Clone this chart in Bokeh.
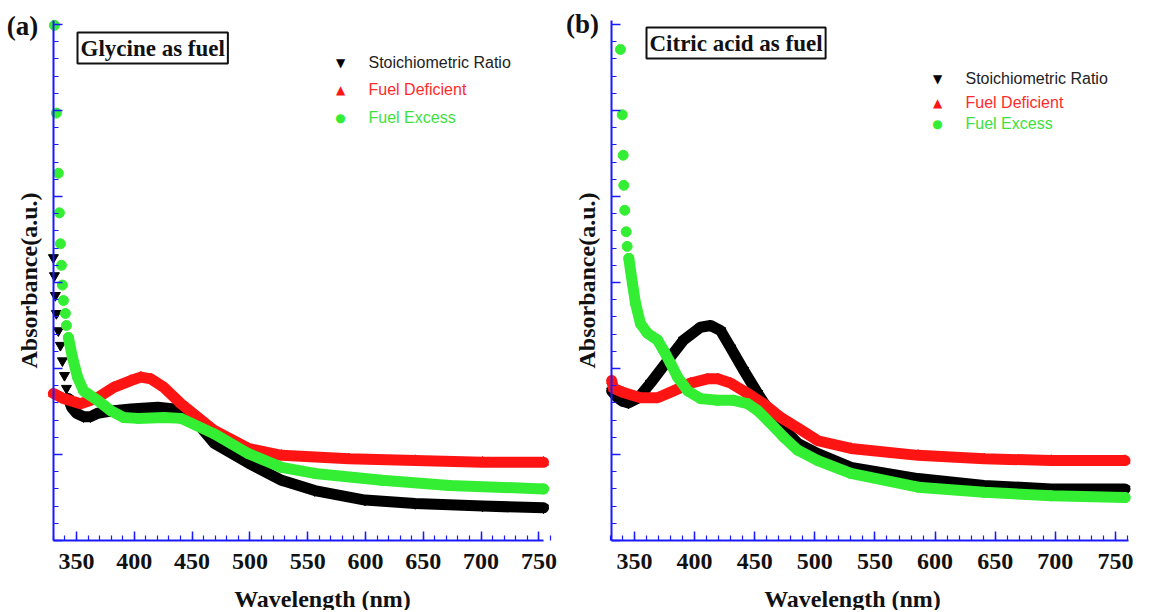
from bokeh.plotting import figure
from bokeh.layouts import row
from bokeh.models import Label, Range1d, FixedTicker, SingleIntervalTicker, CustomJSTickFormatter
from bokeh.embed import file_html
from bokeh.resources import INLINE

# ---------------- data ----------------
WAVE_TICKS = [350, 400, 450, 500, 550, 600, 650, 700, 750]
WAVE_MINOR = list(range(330, 761, 10))

# (a) Glycine as fuel
gly_stoich_wl = [330.0, 330.9, 331.7, 332.6, 334.3, 336.1, 337.8, 339.6, 341.3, 343.0, 345.7, 350.0, 356.1,
                 362.2, 368.3, 382.2, 397.0, 420.4, 434.3, 449.1, 469.1, 498.7, 527.4, 556.1, 599.6, 643.0,
                 701.3, 754.0]
gly_stoich_abs = [3.29, 3.08, 2.85, 2.64, 2.44, 2.27, 2.09, 1.92, 1.77, 1.65, 1.55, 1.48, 1.44,
                  1.44, 1.48, 1.51, 1.53, 1.55, 1.53, 1.45, 1.13, 0.90, 0.70, 0.58, 0.47, 0.43,
                  0.40, 0.38]
gly_def_wl = [330.0, 338.7, 353.5, 368.3, 382.2, 397.0, 405.7, 414.3, 425.7, 440.4, 455.2, 469.1, 498.7,
              527.4, 585.7, 643.0, 701.3, 754.0]
gly_def_abs = [1.71, 1.65, 1.59, 1.66, 1.78, 1.86, 1.90, 1.88, 1.78, 1.59, 1.43, 1.28, 1.07,
               0.99, 0.95, 0.93, 0.91, 0.91]
gly_exc_wl = [330.9, 332.6, 334.3, 335.2, 336.1, 337.0, 337.8, 338.7, 340.4, 341.3, 343.0, 346.5, 350.9,
              356.1, 368.3, 379.6, 390.9, 403.0, 425.7, 440.4, 469.1, 498.7, 527.4, 556.1, 614.3, 672.6,
              754.0]
gly_exc_abs = [5.99, 4.97, 4.27, 3.81, 3.45, 3.20, 2.97, 2.79, 2.64, 2.50, 2.36, 2.13, 1.90,
               1.74, 1.63, 1.51, 1.43, 1.42, 1.43, 1.42, 1.24, 1.01, 0.85, 0.78, 0.70, 0.64,
               0.60]

# (b) Citric acid as fuel
cit_stoich_wl = [331.0, 335.8, 340.0, 345.0, 353.3, 363.3, 377.5, 390.8, 405.0, 413.3, 421.7, 430.0, 440.8,
                 452.5, 463.3, 474.2, 485.8, 502.5, 530.0, 585.8, 640.8, 696.7, 758.0]
cit_stoich_abs = [1.74, 1.66, 1.62, 1.60, 1.66, 1.83, 2.09, 2.33, 2.48, 2.50, 2.44, 2.24, 1.98,
                  1.71, 1.48, 1.30, 1.13, 1.01, 0.85, 0.72, 0.64, 0.60, 0.60]
cit_def_wl = [331.0, 332.5, 340.8, 355.0, 369.2, 382.5, 396.7, 410.8, 419.2, 430.0, 444.2, 457.5, 471.7,
              485.8, 502.5, 530.0, 585.8, 640.8, 696.7, 758.0]
cit_def_abs = [1.86, 1.77, 1.72, 1.66, 1.66, 1.74, 1.83, 1.88, 1.88, 1.83, 1.71, 1.59, 1.43,
               1.31, 1.16, 1.07, 0.99, 0.95, 0.93, 0.93]
cit_exc_wl = [338.3, 339.8, 340.6, 341.1, 341.9, 343.1, 343.9, 345.3, 346.7, 348.3, 350.8, 355.0, 360.8,
              369.2, 374.2, 380.0, 385.8, 394.2, 405.0, 419.2, 432.5, 444.2, 452.5, 463.3, 474.2, 485.8,
              502.5, 530.0, 585.8, 640.8, 696.7, 758.0]
cit_exc_abs = [5.71, 4.95, 4.48, 4.13, 3.84, 3.59, 3.42, 3.28, 3.14, 2.99, 2.76, 2.52, 2.41,
               2.33, 2.21, 2.06, 1.90, 1.74, 1.65, 1.63, 1.63, 1.59, 1.51, 1.36, 1.20, 1.05,
               0.93, 0.78, 0.62, 0.56, 0.52, 0.50]

SERIES_NAMES = ["Stoichiometric Ratio", "Fuel Deficient", "Fuel Excess"]
X_TITLE = "Wavelength (nm)"
Y_TITLE = "Absorbance(a.u.)"

# ---------------- style / layout ----------------
BLACK = "#000000"
RED = "#ff1414"
GREEN = "#33ee33"
BLUE = "#1a1aff"
SERIF = "Liberation Serif"
SANS = "Liberation Sans"

FIG_H = 610          # figure height (px)
AXIS_Y_PX = 540      # pixel row of the wavelength axis (from top)
PX_PER_UNIT = 86     # vertical pixels per absorbance unit
Y_TOP = 6.05         # top of the absorbance axis


def panel(tag, title, series, fig_w, px350, px_per_nm, ax_lo, ax_hi, title_xy, legend_x, legend_ys, xlabel_x):
    x0 = 350 - px350 / px_per_nm
    x1 = 350 + (fig_w - px350) / px_per_nm
    y1 = AXIS_Y_PX / PX_PER_UNIT
    y0 = -(FIG_H - AXIS_Y_PX) / PX_PER_UNIT
    p = figure(width=fig_w, height=FIG_H,
               x_range=Range1d(x0, x1), y_range=Range1d(y0, y1),
               output_backend="svg", toolbar_location=None,
               min_border_left=0, min_border_right=0, min_border_top=0, min_border_bottom=0)
    p.outline_line_color = None
    p.grid.visible = False
    p.background_fill_color = "white"
    p.border_fill_color = "white"

    xa = p.xaxis[0]
    ya = p.yaxis[0]
    xa.fixed_location = 0
    ya.fixed_location = ax_lo
    xa.bounds = (ax_lo, ax_hi)
    ya.bounds = (0, Y_TOP)
    xa.ticker = FixedTicker(ticks=WAVE_TICKS, minor_ticks=WAVE_MINOR)
    ya.ticker = SingleIntervalTicker(interval=1, num_minor_ticks=5)
    for ax in (xa, ya):
        ax.axis_line_color = BLUE
        ax.axis_line_width = 2
        ax.major_tick_line_color = BLUE
        ax.minor_tick_line_color = BLUE
        ax.major_tick_line_width = 1.5
        ax.minor_tick_line_width = 1.2
        ax.major_tick_in = 9
        ax.major_tick_out = 0
        ax.minor_tick_in = 5
        ax.minor_tick_out = 0
        ax.axis_label_text_font = SERIF
        ax.axis_label_text_font_style = "bold"
        ax.axis_label_text_color = "#111111"
    xa.major_label_text_font = SERIF
    xa.major_label_text_font_style = "bold"
    xa.major_label_text_font_size = "24px"
    xa.major_label_text_color = "#111111"
    xa.major_label_standoff = 13
    ya.formatter = CustomJSTickFormatter(code="return ''")
    ya.major_label_text_font_size = "1px"
    ya.major_label_standoff = 0
    ya.axis_label = Y_TITLE
    ya.axis_label_text_font_size = "24px"
    ya.axis_label_standoff = 12

    # x-axis title, placed like the original (slightly off-centre)
    p.add_layout(Label(x=xlabel_x, y=FIG_H - 598, x_units="screen", y_units="screen", text=X_TITLE,
                       text_font=SERIF, text_font_style="bold", text_font_size="24px",
                       text_align="center", text_baseline="middle", text_color="#111111"))

    markers = ["inverted_triangle", "triangle", "circle"]
    colors = [BLACK, RED, GREEN]
    for (wl, ab, dense_from), mk, col in zip(series, markers, colors):
        k = next(i for i, w in enumerate(wl) if w >= dense_from)
        p.line(wl[k:], ab[k:], line_color=col, line_width=11, line_join="round", line_cap="round")
        p.scatter(wl, ab, marker=mk, size=10, fill_color=col, line_color=col)

    # panel tag
    p.add_layout(Label(x=tag[1], y=tag[2], x_units="screen", y_units="screen", text=tag[0],
                       text_font=SERIF, text_font_style="bold", text_font_size="27px",
                       text_align="center", text_baseline="middle", text_color="#111111"))
    # boxed title
    p.add_layout(Label(x=title_xy[0], y=title_xy[1], x_units="screen", y_units="screen", text=title,
                       text_font=SERIF, text_font_style="bold", text_font_size="23px",
                       text_align="left", text_baseline="top", text_color="#111111",
                       border_line_color="#111111", border_line_width=2,
                       background_fill_color="white", padding=3))
    # legend
    glyphs = ["\u25BC", "\u25B2", "\u25CF"]
    text_cols = ["#222222", "#ff2a2a", "#40e040"]
    for g, name, gc, tc, ly in zip(glyphs, SERIES_NAMES, colors, text_cols, legend_ys):
        p.add_layout(Label(x=legend_x, y=ly, x_units="screen", y_units="screen", text=g,
                           text_font="DejaVu Sans", text_font_size="12px", text_color=gc,
                           text_align="center", text_baseline="middle"))
        p.add_layout(Label(x=legend_x + 28, y=ly, x_units="screen", y_units="screen", text=name,
                           text_font=SANS, text_font_size="16px", text_color=tc,
                           text_align="left", text_baseline="middle"))
    return p


p1 = panel(("(a)", 22, FIG_H - 25), "Glycine as fuel",
           [(gly_stoich_wl, gly_stoich_abs, 343.0),
            (gly_def_wl, gly_def_abs, 300.0),
            (gly_exc_wl, gly_exc_abs, 343.0)],
           565, 76, 1.156, 330, 754, (77, FIG_H - 32), 340, [FIG_H - 62, FIG_H - 89, FIG_H - 117], 322)
p2 = panel(("(b)", 17, FIG_H - 23), "Citric acid as fuel",
           [(cit_stoich_wl, cit_stoich_abs, 300.0),
            (cit_def_wl, cit_def_abs, 300.0),
            (cit_exc_wl, cit_exc_abs, 345.0)],
           576, 69, 1.2023, 331, 761, (81, FIG_H - 27), 372, [FIG_H - 78, FIG_H - 102, FIG_H - 123], 287)

layout = row(p1, p2)
open("out.html", "w").write(file_html(layout, INLINE))
